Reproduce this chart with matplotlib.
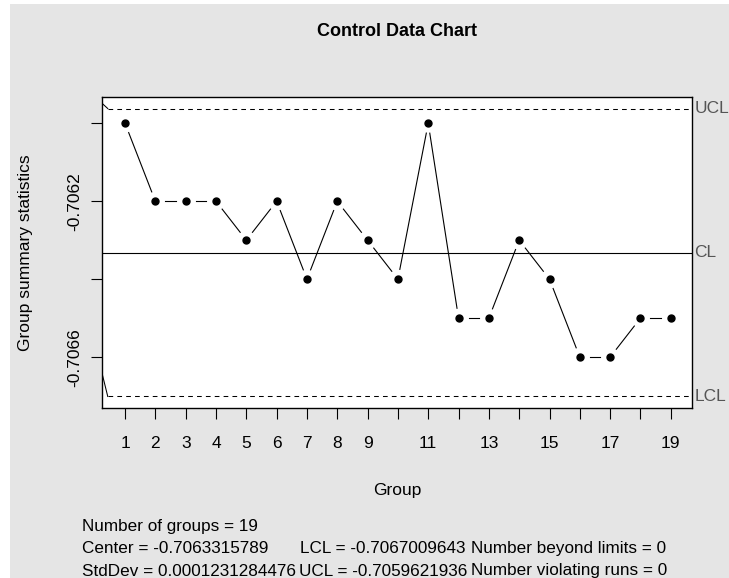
import numpy as np
import matplotlib
matplotlib.use('Agg')
import matplotlib.pyplot as plt
from matplotlib.patches import Rectangle

plt.rcParams['font.family'] = ['Liberation Sans', 'DejaVu Sans']

# group summary statistics
groups = np.arange(1, 20)
values = [-0.7060, -0.7062, -0.7062, -0.7062, -0.7063, -0.7062, -0.7064,
          -0.7062, -0.7063, -0.7064, -0.7060, -0.7065, -0.7065, -0.7063,
          -0.7064, -0.7066, -0.7066, -0.7065, -0.7065]
center = -0.7063315789
lcl = -0.7067009643
ucl = -0.7059621936
stddev = 0.0001231284476

# the limit lines start just left of group 1, with a short lead-in
limit_start = 0.43
lead_x = 0.24
ucl_lead = -0.7059487
lcl_lead = -0.706641

ytick_vals = [-0.7060, -0.7062, -0.7064, -0.7066]
ytick_labels = ['', '-0.7062', '', '-0.7066']
xtick_labels = [str(g) if g < 10 or g % 2 == 1 else '' for g in groups]

W, H = 729, 578
fs = 12.3
fig = plt.figure(figsize=(W / 100, H / 100), dpi=100, facecolor='white')
fig.patches.append(Rectangle((10 / W, 0), 1, 1 - 4 / H, transform=fig.transFigure,
                             facecolor='#e5e5e5', edgecolor='none', zorder=-1))

ax = fig.add_axes([102 / W, 1 - 408 / H, 590 / W, 311 / H])
ax.set_facecolor('white')
ax.set_xlim(0.24, 19.70)
ax.set_ylim(-0.7067305, -0.7059326)

# lines between points, with a gap around each point (like R type="b")
tr = ax.transData
pts = tr.transform(np.column_stack([groups, values]))
gap = 10
for p, q in zip(pts[:-1], pts[1:]):
    d = q - p
    L = np.hypot(d[0], d[1])
    if L <= 2 * gap:
        continue
    u = d / L
    seg = tr.inverted().transform(np.array([p + u * gap, q - u * gap]))
    ax.plot(seg[:, 0], seg[:, 1], color='black', lw=0.8)

ax.plot(groups, values, 'o', ms=5, color='black', zorder=3)

# center line and control limits
xmax = ax.get_xlim()[1]
ax.axhline(center, color='black', lw=0.8)
ax.plot([limit_start, xmax], [ucl, ucl], color='black', lw=0.75, ls=(0, (4.5, 4)))
ax.plot([limit_start, xmax], [lcl, lcl], color='black', lw=0.75, ls=(0, (4.5, 4)))
ax.plot([lead_x, limit_start], [ucl_lead, ucl], color='black', lw=0.75)
ax.plot([lead_x, limit_start], [lcl_lead, lcl], color='black', lw=0.75)

yt = ax.get_yaxis_transform()
for val, name in [(ucl, 'UCL'), (center, 'CL'), (lcl, 'LCL')]:
    ax.text(1.004, val, name, transform=yt, ha='left', va='center',
            color='#555555', fontsize=12.5, clip_on=False)

ax.set_xticks(groups)
ax.set_xticklabels(xtick_labels)
ax.set_yticks(ytick_vals)
ax.set_yticklabels(ytick_labels)
ax.tick_params(axis='both', length=8, width=0.8, direction='out', labelsize=12.5)
ax.tick_params(axis='x', pad=12)
ax.tick_params(axis='y', pad=6)
for lbl in ax.get_yticklabels():
    lbl.set_rotation(90)
    lbl.set_va('center')
for s in ax.spines.values():
    s.set_linewidth(1.0)

fig.text(397 / W, 1 - 31 / H, 'Control Data Chart', ha='center', va='center',
         fontsize=13, fontweight='bold')
fig.text(397 / W, 1 - 491 / H, 'Group', ha='center', va='center', fontsize=12.5)
fig.text(26 / W, 1 - 252.5 / H, 'Group summary statistics', rotation=90,
         ha='center', va='center', fontsize=12.5)

rows = [
    (524.5, [(82.5, 'Number of groups = %d' % len(groups))]),
    (546.7, [(82.5, 'Center = %.10f' % center),
             (300.5, 'LCL = %.10f' % lcl),
             (471, 'Number beyond limits = 0')]),
    (569.5, [(82.5, 'StdDev = %.13f' % stddev),
             (299.3, 'UCL = %.10f' % ucl),
             (471, 'Number violating runs = 0')]),
]
for ypx, items in rows:
    for xpx, txt in items:
        fig.text(xpx / W, 1 - ypx / H, txt, ha='left', va='center_baseline',
                 fontsize=fs)

fig.savefig('out.png', dpi=100, facecolor=fig.get_facecolor())
